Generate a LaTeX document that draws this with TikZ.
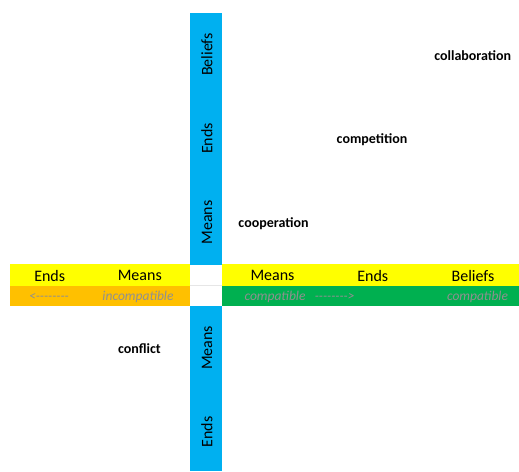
\documentclass[tikz,border=0pt]{standalone}
\usepackage{fontspec}
\setmainfont{Carlito}
\definecolor{barblue}{HTML}{00B0F0}
\definecolor{baryellow}{HTML}{FFFF00}
\definecolor{barorange}{HTML}{FFC000}
\definecolor{bargreen}{HTML}{00B050}
\definecolor{hint}{HTML}{909090}
\definecolor{grid}{HTML}{E6E6E6}
\begin{document}
\begin{tikzpicture}[x=1pt,y=-1pt,
  axis/.style={inner sep=0pt,font=\fontsize{16}{18}\selectfont},
  vaxis/.style={axis,rotate=90},
  note/.style={inner sep=0pt,font=\fontsize{13.5}{16}\selectfont\itshape,text=hint},
  rel/.style={inner sep=0pt,font=\fontsize{14}{16}\selectfont\bfseries}]
\useasboundingbox (0,0) rectangle (519,471);
% vertical axis
\fill[barblue] (190,13) rectangle (222,265);
\fill[barblue] (190,306) rectangle (222,471);
% horizontal axis, left half
\fill[baryellow] (10,264) rectangle (190,286);
\fill[barorange] (10,286) rectangle (190,306);
% horizontal axis, right half
\fill[baryellow] (222,264) rectangle (519,286);
\fill[bargreen] (222,286) rectangle (519,306);
% cell line in the centre gap
\draw[grid,line width=0.8pt] (190,285.5) -- (222,285.5);
% vertical labels
\node[vaxis] (vbeliefs) at (207,54.5) {Beliefs};
\node[vaxis] (vends) at (207,138.5) {Ends};
\node[vaxis] (vmeans) at (207,222.5) {Means};
\node[vaxis] (vmeansb) at (207,348) {Means};
\node[vaxis] (vendsb) at (207,432) {Ends};
% horizontal labels
\node[axis] (hendsl) at (49.7,275.5) {Ends};
\node[axis] (hmeansl) at (139.8,275.5) {Means};
\node[axis] (hmeansr) at (272.5,275.5) {Means};
\node[axis] (hendsr) at (372.8,275.5) {Ends};
\node[axis] (hbeliefs) at (473,275.5) {Beliefs};
\node[note] (arrl) at (49,296.5) {<{}-{}-{}-{}-{}-{}-{}-{}-};
\node[note] (incomp) at (138,296.5) {incompatible};
\node[note] (comp) at (275,296.5) {compatible};
\node[note] (arrr) at (334.7,296.5) {-{}-{}-{}-{}-{}-{}-{}->};
\node[note] (compb) at (477.5,296.5) {compatible};
% relationship labels
\node[rel] (collab) at (472.7,56) {collaboration};
\node[rel] (compet) at (372,140) {competition};
\node[rel] (coop) at (273.5,224) {cooperation};
\node[rel] (confl) at (139.5,349) {conflict};
\end{tikzpicture}
\end{document}
